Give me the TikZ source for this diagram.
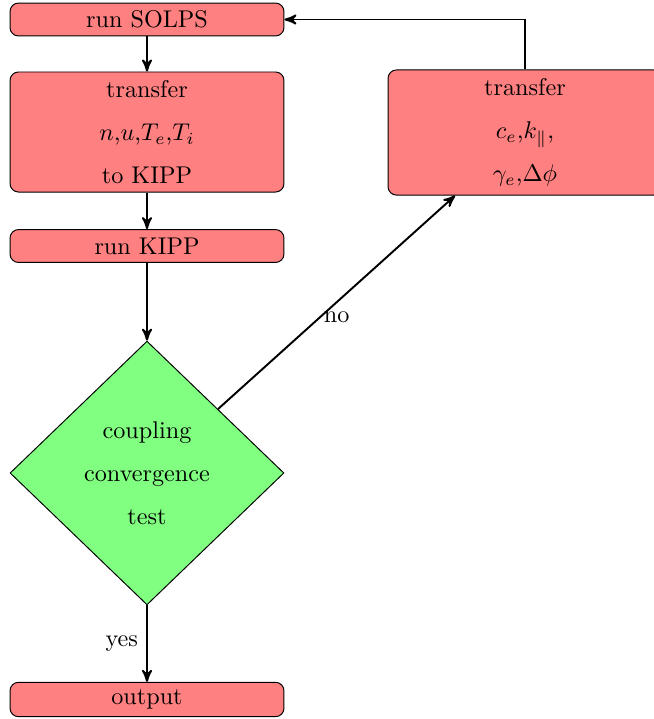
\documentclass[tikz,border=0pt]{standalone}
\usetikzlibrary{shapes.geometric,arrows}
\begin{document}
\begin{tikzpicture}[x=0.4132pt,y=-0.4132pt,
  >=stealth',
  blockbox/.style={draw,fill=red!50,rounded corners=3.5pt,minimum width=113.2pt,align=center,inner sep=0pt},
  decisionbox/.style={draw,fill=green!50,diamond,aspect=1,minimum width=113.2pt,minimum height=109pt,align=center,inner sep=0pt},
  conn/.style={->,thick}]
\useasboundingbox (0,0) rectangle (654,719);
\node[blockbox,minimum height=13.6pt] (solps) at (147,19.5) {run SOLPS};
\node[blockbox,minimum height=49.6pt] (t1) at (147,132) {transfer\\[5.8pt]$n$,$u$,$T_e$,$T_i$\\[5.8pt]to KIPP};
\node[blockbox,minimum height=13.6pt] (kipp) at (147,246) {run KIPP};
\node[decisionbox] (test) at (147,473) {coupling\\[5.8pt]convergence\\[5.8pt]test};
\node[blockbox,minimum height=14.2pt] (out) at (147,699.5) {output};
\node[blockbox,minimum height=51.7pt] (t2) at (525,132.5) {transfer\\[5.8pt]$c_e$,$k_\parallel$,\\[5.8pt]$\gamma_e$,$\Delta\phi$};
\draw[conn] (solps) -- (t1);
\draw[conn] (t1) -- (kipp);
\draw[conn] (kipp) -- (test);
\draw[conn] (test) -- node[midway,left] {yes} (out);
\draw[conn] (test) -- node[midway,below] {no} (t2);
\draw[conn] (t2) |- (solps);
\end{tikzpicture}
\end{document}
